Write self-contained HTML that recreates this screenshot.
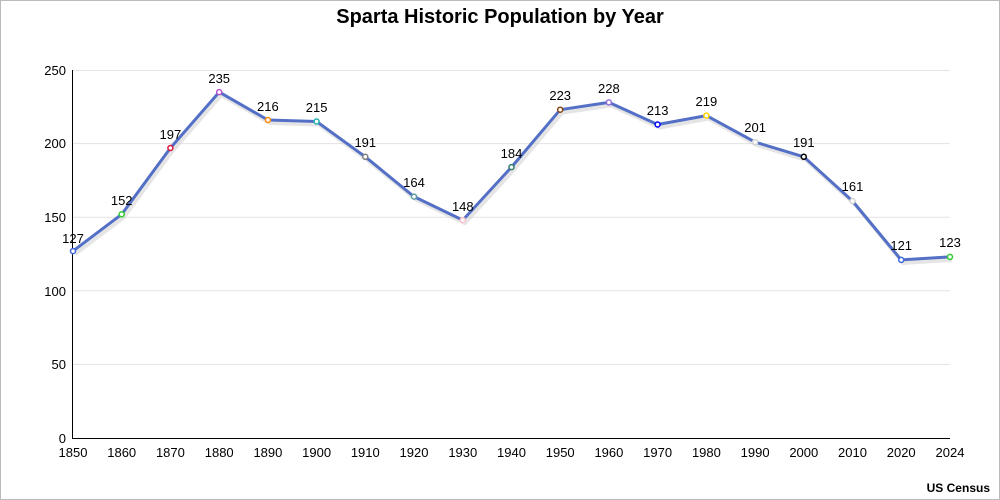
<!DOCTYPE html>
<html><head><meta charset="utf-8"><style>
html,body{margin:0;padding:0;background:#fff}
svg{display:block;font-family:"Liberation Sans",sans-serif}
</style></head><body>
<svg width="1000" height="500" xmlns="http://www.w3.org/2000/svg">
<rect x="0.5" y="0.5" width="999" height="499" fill="#fff" stroke="#bbb"/>
<text x="500" y="23" text-anchor="middle" font-size="20" font-weight="bold">Sparta Historic Population by Year</text>
<g stroke="#e3e3e3" stroke-width="1">
<line x1="73" x2="950" y1="70.5" y2="70.5"/>
<line x1="73" x2="950" y1="143.6" y2="143.6"/>
<line x1="73" x2="950" y1="217.2" y2="217.2"/>
<line x1="73" x2="950" y1="290.8" y2="290.8"/>
<line x1="73" x2="950" y1="364.4" y2="364.4"/>
</g>
<line x1="72.5" x2="72.5" y1="70" y2="438" stroke="#000"/>
<line x1="72" x2="950" y1="438.5" y2="438.5" stroke="#000"/>
<g font-size="13" text-anchor="end">
<text x="66" y="75">250</text><text x="66" y="148">200</text><text x="66" y="222">150</text><text x="66" y="296">100</text><text x="66" y="369">50</text><text x="66" y="443">0</text>
</g>
<g font-size="13" text-anchor="middle">
<text x="73" y="457">1850</text><text x="121.7" y="457">1860</text><text x="170.4" y="457">1870</text><text x="219.2" y="457">1880</text><text x="267.9" y="457">1890</text><text x="316.6" y="457">1900</text><text x="365.3" y="457">1910</text><text x="414" y="457">1920</text><text x="462.8" y="457">1930</text><text x="511.5" y="457">1940</text><text x="560.2" y="457">1950</text><text x="608.9" y="457">1960</text><text x="657.6" y="457">1970</text><text x="706.4" y="457">1980</text><text x="755.1" y="457">1990</text><text x="803.8" y="457">2000</text><text x="852.5" y="457">2010</text><text x="901.2" y="457">2020</text><text x="950" y="457">2024</text>
</g>
<polyline fill="none" stroke="#ccc" stroke-width="4" opacity="0.5" transform="translate(2,3)" points="73,251.1 121.7,214.3 170.4,148 219.2,92.1 267.9,120 316.6,121.5 365.3,156.8 414,196.6 462.8,220.1 511.5,167.1 560.2,109.7 608.9,102.4 657.6,124.5 706.4,115.6 755.1,142.1 803.8,156.8 852.5,201 901.2,259.9 950,256.9"/>
<polyline fill="none" stroke="#5470c6" stroke-width="3" stroke-linejoin="round" points="73,251.1 121.7,214.3 170.4,148 219.2,92.1 267.9,120 316.6,121.5 365.3,156.8 414,196.6 462.8,220.1 511.5,167.1 560.2,109.7 608.9,102.4 657.6,124.5 706.4,115.6 755.1,142.1 803.8,156.8 852.5,201 901.2,259.9 950,256.9"/>
<g fill="#fff" stroke-width="1.5">
<circle cx="73" cy="251.1" r="2.5" stroke="royalblue"/>
<circle cx="121.7" cy="214.3" r="2.5" stroke="limegreen"/>
<circle cx="170.4" cy="148" r="2.5" stroke="crimson"/>
<circle cx="219.2" cy="92.1" r="2.5" stroke="mediumorchid"/>
<circle cx="267.9" cy="120" r="2.5" stroke="darkorange"/>
<circle cx="316.6" cy="121.5" r="2.5" stroke="lightseagreen"/>
<circle cx="365.3" cy="156.8" r="2.5" stroke="gray"/>
<circle cx="414" cy="196.6" r="2.5" stroke="cadetblue"/>
<circle cx="462.8" cy="220.1" r="2.5" stroke="pink"/>
<circle cx="511.5" cy="167.1" r="2.5" stroke="#2f7f6f"/>
<circle cx="560.2" cy="109.7" r="2.5" stroke="saddlebrown"/>
<circle cx="608.9" cy="102.4" r="2.5" stroke="mediumpurple"/>
<circle cx="657.6" cy="124.5" r="2.5" stroke="blue"/>
<circle cx="706.4" cy="115.6" r="2.5" stroke="gold"/>
<circle cx="755.1" cy="142.1" r="2.5" stroke="lightgray"/>
<circle cx="803.8" cy="156.8" r="2.5" stroke="black"/>
<circle cx="852.5" cy="201" r="2.5" stroke="lightgray"/>
<circle cx="901.2" cy="259.9" r="2.5" stroke="royalblue"/>
<circle cx="950" cy="256.9" r="2.5" stroke="limegreen"/>
</g>
<g font-size="13" text-anchor="middle">
<text x="73" y="243">127</text><text x="121.7" y="205">152</text><text x="170.4" y="139">197</text><text x="219.2" y="83">235</text><text x="267.9" y="111">216</text><text x="316.6" y="112">215</text><text x="365.3" y="147">191</text><text x="414" y="187">164</text><text x="462.8" y="211">148</text><text x="511.5" y="158">184</text><text x="560.2" y="100">223</text><text x="608.9" y="93">228</text><text x="657.6" y="115">213</text><text x="706.4" y="106">219</text><text x="755.1" y="132">201</text><text x="803.8" y="147">191</text><text x="852.5" y="191">161</text><text x="901.2" y="250">121</text><text x="950" y="247">123</text>
</g>
<text x="990" y="492" text-anchor="end" font-size="12" font-weight="bold">US Census</text>
</svg>
</body></html>
